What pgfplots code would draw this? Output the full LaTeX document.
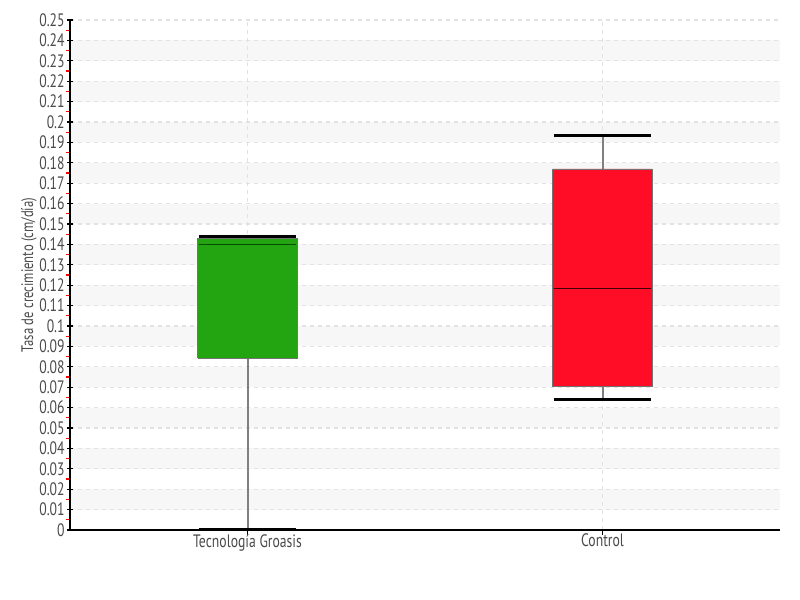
\documentclass[border=0pt]{standalone}
\usepackage{fontspec}
\setmainfont{PT Sans}[FakeStretch=0.76]
\usepackage{pgfplots}
\pgfplotsset{compat=1.18}
\definecolor{gg}{HTML}{22A511}
\definecolor{rr}{HTML}{FF0D27}
\definecolor{band}{HTML}{F7F7F7}
\definecolor{gridc}{HTML}{E2E2E2}
\definecolor{txt}{HTML}{4A4A4A}
\begin{document}
\begin{tikzpicture}
\begin{axis}[
  set layers,
  at={(0pt,0pt)}, anchor=south west,
  scale only axis, width=532.5pt, height=382.5pt,
  xmin=-0.5, xmax=1.5, ymin=0, ymax=0.25,
  axis x line*=bottom, axis y line*=left,
  axis line style={black, line width=0.8pt},
  xtick={0,1}, xticklabels={Tecnología Groasis, Control},
  ytick distance=0.01,
  minor y tick num=1,
  tick align=center,
  major tick length=4pt, minor tick length=3pt,
  every major tick/.style={black, line width=0.8pt},
  every minor tick/.style={red, line width=0.8pt, xshift=-1.5pt},
  x tick style={black, line width=0.6pt, yshift=-1.5pt},
  grid=major,
  major grid style={gridc, dashed, line width=0.8pt},
  ticklabel style={font=\fontsize{13.5}{14}\selectfont, text=txt},
  /pgf/number format/assume math mode=true,
  yticklabel style={/pgf/number format/fixed, /pgf/number format/precision=2, xshift=1.5pt},
  xticklabel style={yshift=2.5pt},
  ylabel={Tasa de crecimiento (cm/día)},
  ylabel style={font=\fontsize{12.5}{13}\selectfont, text=txt, yshift=-5pt},
  clip=false,
]
% alternating bands
\addplot[on layer=axis background, fill=band, draw=none, forget plot] coordinates {(-0.5,0.01) (1.5,0.01) (1.5,0.02) (-0.5,0.02)};
\addplot[on layer=axis background, fill=band, draw=none, forget plot] coordinates {(-0.5,0.03) (1.5,0.03) (1.5,0.04) (-0.5,0.04)};
\addplot[on layer=axis background, fill=band, draw=none, forget plot] coordinates {(-0.5,0.05) (1.5,0.05) (1.5,0.06) (-0.5,0.06)};
\addplot[on layer=axis background, fill=band, draw=none, forget plot] coordinates {(-0.5,0.07) (1.5,0.07) (1.5,0.08) (-0.5,0.08)};
\addplot[on layer=axis background, fill=band, draw=none, forget plot] coordinates {(-0.5,0.09) (1.5,0.09) (1.5,0.10) (-0.5,0.10)};
\addplot[on layer=axis background, fill=band, draw=none, forget plot] coordinates {(-0.5,0.11) (1.5,0.11) (1.5,0.12) (-0.5,0.12)};
\addplot[on layer=axis background, fill=band, draw=none, forget plot] coordinates {(-0.5,0.13) (1.5,0.13) (1.5,0.14) (-0.5,0.14)};
\addplot[on layer=axis background, fill=band, draw=none, forget plot] coordinates {(-0.5,0.15) (1.5,0.15) (1.5,0.16) (-0.5,0.16)};
\addplot[on layer=axis background, fill=band, draw=none, forget plot] coordinates {(-0.5,0.17) (1.5,0.17) (1.5,0.18) (-0.5,0.18)};
\addplot[on layer=axis background, fill=band, draw=none, forget plot] coordinates {(-0.5,0.19) (1.5,0.19) (1.5,0.20) (-0.5,0.20)};
\addplot[on layer=axis background, fill=band, draw=none, forget plot] coordinates {(-0.5,0.21) (1.5,0.21) (1.5,0.22) (-0.5,0.22)};
\addplot[on layer=axis background, fill=band, draw=none, forget plot] coordinates {(-0.5,0.23) (1.5,0.23) (1.5,0.24) (-0.5,0.24)};
% whiskers (vertical)
\addplot[gray, line width=1.5pt, forget plot] coordinates {(0,0.0005) (0,0.0842)};
\addplot[gray, line width=1.5pt, forget plot] coordinates {(0,0.1430) (0,0.1437)};
\addplot[gray, line width=1.5pt, forget plot] coordinates {(1,0.0641) (1,0.0703)};
\addplot[gray, line width=1.5pt, forget plot] coordinates {(1,0.1770) (1,0.1935)};
% boxes (lower quartile to upper quartile)
\addplot[fill=gg, draw=black!55, line width=0.6pt, forget plot] coordinates {(-0.14,0.0842) (0.14,0.0842) (0.14,0.1430) (-0.14,0.1430) (-0.14,0.0842)};
\addplot[fill=rr, draw=black!55, line width=0.6pt, forget plot] coordinates {(0.86,0.0703) (1.14,0.0703) (1.14,0.1770) (0.86,0.1770) (0.86,0.0703)};
% medians
\addplot[black!70!green, line width=1.2pt, forget plot] coordinates {(-0.137,0.1400) (0.137,0.1400)};
\addplot[black!75!red, line width=0.8pt, forget plot] coordinates {(0.863,0.1185) (1.137,0.1185)};
% whisker caps
\addplot[black, line width=2.2pt, forget plot] coordinates {(-0.137,0.1437) (0.137,0.1437)};
\addplot[black, line width=2.2pt, forget plot] coordinates {(-0.137,0.0005) (0.137,0.0005)};
\addplot[black, line width=2.2pt, forget plot] coordinates {(0.863,0.1935) (1.137,0.1935)};
\addplot[black, line width=2.2pt, forget plot] coordinates {(0.863,0.0641) (1.137,0.0641)};
\end{axis}
\path (-52.5pt,-52.5pt) rectangle (547.5pt,397.5pt);
\end{tikzpicture}
\end{document}
